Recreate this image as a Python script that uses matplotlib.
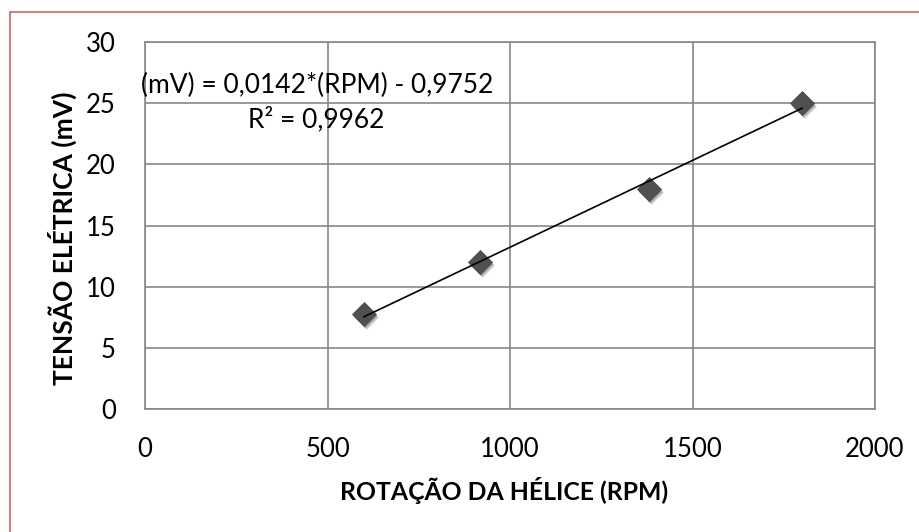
import matplotlib
matplotlib.use("Agg")
import matplotlib.pyplot as plt
import numpy as np
import matplotlib.transforms as mtrans
from matplotlib.patches import Rectangle

plt.rcParams['font.family'] = ['Lato', 'DejaVu Sans']

rpm = [600, 918, 1380, 1800]
mv = [7.8, 12.0, 18.0, 25.0]
x_ticks = [0, 500, 1000, 1500, 2000]
y_ticks = [0, 5, 10, 15, 20, 25, 30]
eq_text = "(mV) = 0,0142*(RPM) - 0,9752"
r2_text = "R² = 0,9962"
x_label = "ROTAÇÃO DA HÉLICE (RPM)"
y_label = "TENSÃO ELÉTRICA (mV)"

W, H = 919, 532
fig = plt.figure(figsize=(W / 100, H / 100), dpi=100)
fig.patch.set_facecolor('white')

# outer chart border (red, only left/top visible)
fig.add_artist(Rectangle((10 / W, -0.1), 1.2, 1.1 - 12 / H,
                         transform=fig.transFigure, fill=False,
                         edgecolor='#D26464', linewidth=1.2))

ax = fig.add_axes([145 / W, 1 - 409 / H, (875 - 145) / W, (409 - 42) / H])
ax.set_xlim(0, 2000)
ax.set_ylim(0, 30)
ax.set_xticks(x_ticks)
ax.set_yticks(y_ticks)
ax.tick_params(length=0, labelsize=18.5)
ax.tick_params(axis='x', pad=20)
ax.tick_params(axis='y', pad=21)
ax.grid(True, color='#878787', linewidth=1.2)
ax.set_axisbelow(True)
for s in ax.spines.values():
    s.set_color('#878787')
    s.set_linewidth(1.2)

# trendline
coef = np.polyfit(rpm, mv, 1)
xl = np.array([min(rpm), max(rpm)])
ax.plot(xl, np.polyval(coef, xl), color='black', linewidth=1.2, zorder=3)

# marker shadow
for dx, dy, a in [(2, -3, 0.18), (3, -4, 0.12), (1, -2, 0.15)]:
    off = mtrans.offset_copy(ax.transData, fig=fig, x=dx, y=dy, units='dots')
    ax.plot(rpm, mv, linestyle='none', marker='D', markersize=12.5,
            color='#000000', alpha=a, markeredgewidth=0, transform=off, zorder=2)
ax.plot(rpm, mv, linestyle='none', marker='D', markersize=12.5,
        color='#505050', markeredgecolor='#454545', markeredgewidth=0.5, zorder=2.5)

fig.text(317 / W, 1 - 85 / H, eq_text, ha='center', va='center', fontsize=19)
fig.text(316 / W, 1 - 119 / H, r2_text, ha='center', va='center', fontsize=19)

fig.text(504 / W, 1 - 491 / H, x_label, ha='center', va='center',
         fontsize=17.8, fontweight='bold')
fig.text(62 / W, 1 - 238 / H, y_label, ha='center', va='center',
         fontsize=19, fontweight='bold', rotation=90)

fig.savefig('out.png', dpi=100)
